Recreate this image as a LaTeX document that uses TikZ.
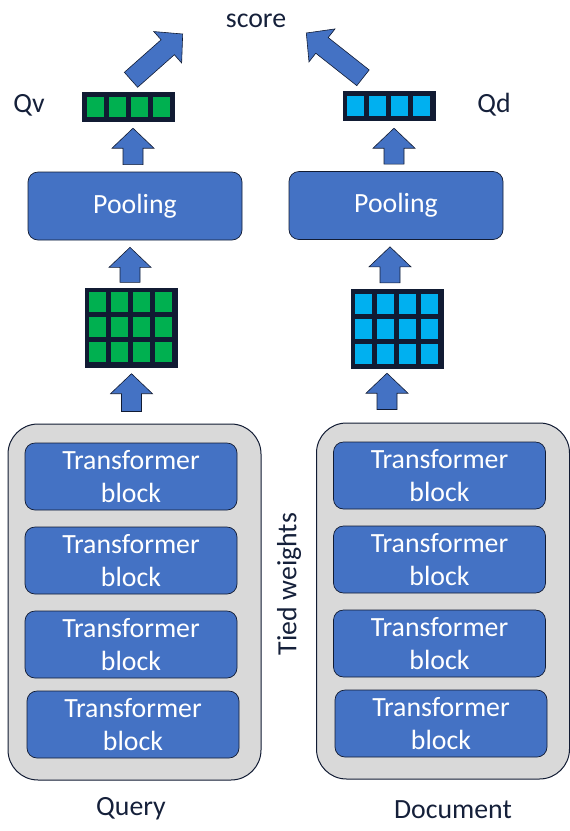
\documentclass[tikz,border=0pt]{standalone}
\usepackage{fontspec}
\setmainfont{Carlito}
\usetikzlibrary{calc}
\definecolor{ink}{HTML}{15203A}
\definecolor{edge}{HTML}{111B33}
\definecolor{boxblue}{HTML}{4472C4}
\definecolor{qgreen}{HTML}{00B050}
\definecolor{dcyan}{HTML}{00B0F0}
\definecolor{stackgrey}{HTML}{D9D9D9}
\tikzset{
  barrow/.style={draw=edge, fill=boxblue, line width=0.6pt, line join=miter,
    to path={
      ($(\tikztostart)!10pt!90:(\tikztotarget)$)
      -- ($(\tikztotarget)!20pt!(\tikztostart)!10pt!90:(\tikztotarget)$)
      -- ($(\tikztotarget)!20pt!(\tikztostart)!21pt!90:(\tikztotarget)$)
      -- (\tikztotarget)
      -- ($(\tikztotarget)!20pt!(\tikztostart)!21pt!-90:(\tikztotarget)$)
      -- ($(\tikztotarget)!20pt!(\tikztostart)!10pt!-90:(\tikztotarget)$)
      -- ($(\tikztostart)!10pt!-90:(\tikztotarget)$) -- cycle}}
}
\begin{document}
\begin{tikzpicture}[
  x=1pt, y=-1pt,
  every node/.style={font=\fontsize{27.8}{33}\selectfont, inner sep=0pt},
  lbl/.style={text=ink},
  vecbox/.style={rectangle, fill=edge, minimum width=93pt, minimum height=30pt},
  matbox/.style={rectangle, fill=edge, minimum width=93pt, minimum height=80pt},
  poolbox/.style={rectangle, rounded corners=10pt, draw=edge, line width=0.7pt,
    fill=boxblue, text=white, minimum width=214pt, minimum height=68pt},
  stackbox/.style={rectangle, rounded corners=30pt, draw=edge, line width=1pt,
    fill=stackgrey, minimum width=253pt, minimum height=356pt},
  tblock/.style={rectangle, rounded corners=10pt, draw=edge, line width=0.7pt,
    fill=boxblue, text=white, align=center, minimum width=212pt, minimum height=67pt}
]
\useasboundingbox (0,0) rectangle (570,831);

% labels
\node[lbl] (score) at (256,21) {score};
\node[lbl] (qvlbl) at (29,105) {Qv};
\node[lbl] (qdlbl) at (494,105) {Qd};
\node[lbl] (query) at (131,809) {Query};
\node[lbl] (doc) at (453,810) {Document};
\node[lbl, rotate=90] (tied) at (289,584) {Tied weights};

% pooled vectors
\node[vecbox] (qvec) at (128.5,107) {};
\node[vecbox] (dvec) at (389,106) {};
\foreach \i in {0,...,3} {
  \fill[qgreen] ($(qvec.north west)+(5+22*\i,5)$) rectangle +(17,20);
  \fill[dcyan] ($(dvec.north west)+(5+22*\i,5)$) rectangle +(17,20);
}

% pooling
\node[poolbox] (qpool) at (135,206) {Pooling};
\node[poolbox] (dpool) at (396,205.5) {Pooling};

% token matrices
\node[matbox] (qmat) at (131,327.5) {};
\node[matbox] (dmat) at (397,329) {};
\foreach \i in {0,...,3} {
  \foreach \j in {0,...,2} {
    \fill[qgreen] ($(qmat.north west)+(5+22*\i,5+25*\j)$) rectangle +(17,20);
    \fill[dcyan] ($(dmat.north west)+(5+22*\i,5+25*\j)$) rectangle +(17,20);
  }
}

% encoders
\node[stackbox] (qstack) at (134.5,602) {};
\node[stackbox] (dstack) at (443,601) {};
\node[tblock] (qb1) at (131,476.5) {Transformer\\block};
\node[tblock] (qb2) at (131,560.5) {Transformer\\block};
\node[tblock] (qb3) at (131,644.5) {Transformer\\block};
\node[tblock] (qb4) at (133,724.5) {Transformer\\block};
\node[tblock] (db1) at (439.5,475.5) {Transformer\\block};
\node[tblock] (db2) at (439.5,559.5) {Transformer\\block};
\node[tblock] (db3) at (439.5,643.5) {Transformer\\block};
\node[tblock] (db4) at (441,723.5) {Transformer\\block};

% arrows
\draw[barrow] ($(qmat.south |- qstack.north)+(0.5,-12)$) to ($(qmat.south)+(0.5,6)$);
\draw[barrow] ($(qmat.north)+(-1,-5)$) to ($(qmat.north |- qpool.south)+(-1,7)$);
\draw[barrow] ($(qpool.north)+(-2,-7)$) to ($(qpool.north |- qvec.south)+(-2,6)$);
\draw[barrow] ($(qvec.north)+(2.5,-12)$) to ($(score.west)+(-43,13)$);
\draw[barrow] ($(dmat.south |- dstack.north)+(-10,-13)$) to ($(dmat.south)+(-10,4)$);
\draw[barrow] ($(dmat.north)+(-7,-6)$) to ($(dmat.north |- dpool.south)+(-7,7)$);
\draw[barrow] ($(dpool.north)+(-2,-7)$) to ($(dpool.north |- dvec.south)+(-2,7)$);
\draw[barrow] ($(dvec.north)+(-26,-13)$) to ($(score.east)+(20,12)$);
\end{tikzpicture}
\end{document}
